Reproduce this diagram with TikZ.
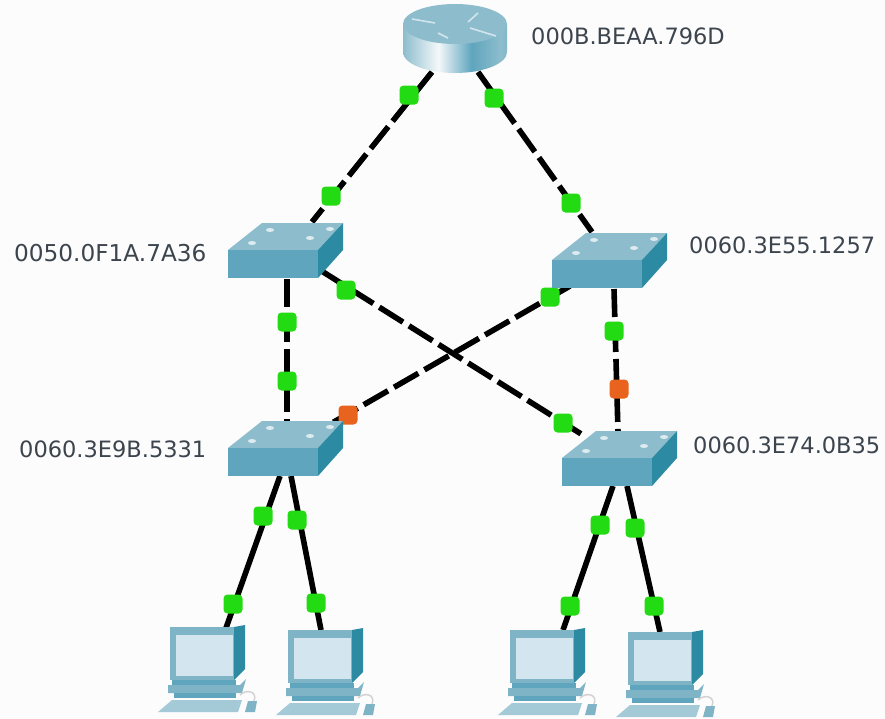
\documentclass[tikz,border=0pt]{standalone}
\usepackage{fontspec}
\setmainfont{DejaVu Sans}
\usetikzlibrary{backgrounds}
\definecolor{swTop}{HTML}{8DBDCD}
\definecolor{swFront}{HTML}{5FA5BE}
\definecolor{swSide}{HTML}{2C8BA2}
\definecolor{scr}{HTML}{D3E5EF}
\definecolor{pcFrame}{HTML}{7FB4C6}
\definecolor{lab}{HTML}{3C444E}
\definecolor{lampGreen}{HTML}{22DB12}
\definecolor{lampOrange}{HTML}{E8641E}
\pgfdeclarehorizontalshading{routerside}{100bp}{
  color(0bp)=(swSide!70!swFront);
  color(25bp)=(swTop);
  color(42bp)=(white!90!swTop);
  color(58bp)=(swFront);
  color(72bp)=(swTop);
  color(100bp)=(swSide)}
\tikzset{
  x=1pt,y=-1pt,
  lamp/.style={rectangle,rounded corners=4pt,minimum size=19pt,inner sep=0,fill=#1},
  lamp/.default=lampGreen,
  addr/.style={anchor=west,inner sep=0,text=lab,font=\fontsize{22.5}{24}\selectfont},
  trunk/.style={line width=5.6pt,black,dash pattern=on 28pt off 7pt},
  drop/.style={line width=5.6pt,black},
  pics/switchicon/.style={code={
    \fill[swTop] (0,27) -- (34,0) -- (115,0) -- (90,27) -- cycle;
    \fill[swFront] (0,27) rectangle (90,55);
    \fill[swSide] (90,27) -- (115,0) -- (115,27) -- (90,55) -- cycle;
    \foreach \a/\b in {42/7,24/20,102/6,82/15}
      \fill[white,opacity=.7] (\a,\b) ellipse (4 and 2);
  }},
  pics/pcicon/.style={code={
    \fill[pcFrame] (0,0) rectangle (64,53);
    \fill[swSide] (64,0) -- (75,-2) -- (75,42) -- (64,53) -- cycle;
    \fill[scr] (6,8) rectangle (63,49);
    \fill[swFront] (2,53) rectangle (66,58);
    \fill[pcFrame] (-2,58) -- (70,58) -- (76,52) -- (72,66) -- (-2,66) -- cycle;
    \fill[swFront] (4,66) rectangle (66,71);
    \fill[pcFrame!70] (-12,85) -- (2,73) -- (72,73) -- (68,85) -- cycle;
    \fill[pcFrame] (78,74) -- (87,74) -- (85,85) -- (75,85) -- cycle;
    \draw[gray!35,line width=1.5pt] (84,74) .. controls (88,64) and (76,62) .. (70,68);
  }}
}
\begin{document}
\begin{tikzpicture}
\useasboundingbox (0,0) rectangle (885,718);
% connector ends
\coordinate (rL) at (432,72);
\coordinate (rR) at (478,72);
\coordinate (s1n) at (312,222);
\coordinate (s1w) at (287,279);
\coordinate (s1e) at (320,270);
\coordinate (s2n) at (592,232);
\coordinate (s2w) at (570,286);
\coordinate (s2s) at (614,289);
\coordinate (s3n) at (287,422);
\coordinate (s3e) at (332,423);
\coordinate (s3a) at (280,476);
\coordinate (s3b) at (291,476);
\coordinate (s4w) at (586,437);
\coordinate (s4n) at (618,432);
\coordinate (s4a) at (613,486);
\coordinate (s4b) at (627,486);
\coordinate (p1) at (226,628);
\coordinate (p2) at (321,630);
\coordinate (p3) at (563,630);
\coordinate (p4) at (660,632);
% lamps
\node[lamp] (a1) at (409,95) {};
\node[lamp] (a2) at (331,196) {};
\node[lamp] (b1) at (494,98) {};
\node[lamp] (b2) at (571,203) {};
\node[lamp] (c1) at (287,322) {};
\node[lamp] (c2) at (287,381) {};
\node[lamp] (d1) at (614,331) {};
\node[lamp=lampOrange] (d2) at (619,389) {};
\node[lamp] (e1) at (346,290) {};
\node[lamp] (e2) at (563,423) {};
\node[lamp] (f1) at (550,297) {};
\node[lamp=lampOrange] (f2) at (348,415) {};
\node[lamp] (g1) at (263,516) {};
\node[lamp] (g2) at (233,604) {};
\node[lamp] (h1) at (297,520) {};
\node[lamp] (h2) at (316,603) {};
\node[lamp] (i1) at (600,525) {};
\node[lamp] (i2) at (570,606) {};
\node[lamp] (j1) at (635,528) {};
\node[lamp] (j2) at (654,606) {};
% connectors
\begin{scope}[on background layer]
\fill[white!99!black] (0,0) rectangle (885,718);
\draw[trunk] (rL) -- (s1n);
\draw[trunk] (rR) -- (s2n);
\draw[trunk] (s1w) -- (s3n);
\draw[trunk] (s2s) -- (s4n);
\draw[trunk] (s1e) -- (s4w);
\draw[trunk] (s2w) -- (s3e);
\draw[drop] (s3a) -- (p1);
\draw[drop] (s3b) -- (p2);
\draw[drop] (s4a) -- (p3);
\draw[drop] (s4b) -- (p4);
\end{scope}
% router
\shade[shading=routerside]
  (403,24) -- (403,52) arc[start angle=180,end angle=0,x radius=52,y radius=21] -- (507,24) -- cycle;
\fill[swTop] (455,24) ellipse (52 and 20);
\draw[white,opacity=.6,line width=1.6pt] (468,22) -- (478,13);
\draw[white,opacity=.6,line width=1.6pt] (470,28) -- (496,36);
\draw[white,opacity=.6,line width=1.6pt] (412,19) -- (435,23);
\draw[white,opacity=.6,line width=1.6pt] (438,33) -- (448,38);
% switches
\pic at (228,223) {switchicon};
\pic at (552,233) {switchicon};
\pic at (228,421) {switchicon};
\pic at (562,431) {switchicon};
% PCs
\pic at (170,627) {pcicon};
\pic at (288,630) {pcicon};
\pic at (510,630) {pcicon};
\pic at (628,632) {pcicon};
% labels
\node[addr] (l0) at (531,36) {000B.BEAA.796D};
\node[addr,font=\fontsize{23.2}{24}\selectfont] (l1) at (14,253) {0050.0F1A.7A36};
\node[addr] (l2) at (689,245) {0060.3E55.1257};
\node[addr] (l3) at (19,449) {0060.3E9B.5331};
\node[addr] (l4) at (693,445) {0060.3E74.0B35};
\end{tikzpicture}
\end{document}
